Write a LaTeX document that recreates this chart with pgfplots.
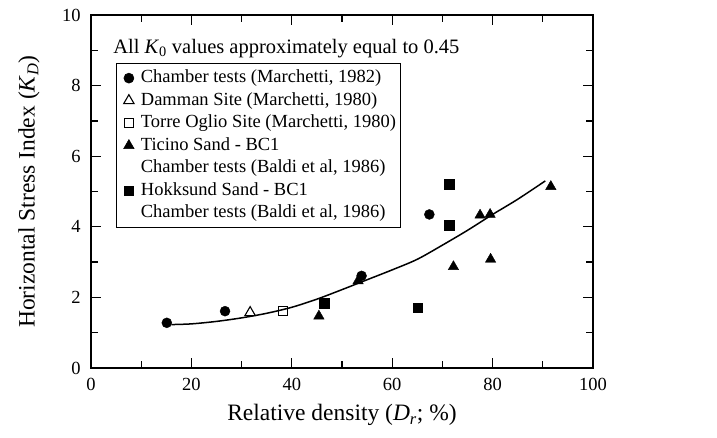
\documentclass[border=0pt]{standalone}
\usepackage{pgfplots}
\pgfplotsset{compat=1.18}
\usepackage{fontspec}
\setmainfont{Liberation Serif}
\begin{document}
\fontsize{18.5bp}{22bp}\selectfont
\begin{tikzpicture}
\path[use as bounding box] (-91bp,-70bp) rectangle (626bp,368bp);
\begin{axis}[
  at={(0,0)}, anchor=south west,
  scale only axis, width=502bp, height=353bp,
  xmin=0, xmax=100, ymin=0, ymax=10,
  xtick={0,20,...,100}, ytick={0,2,...,10},
  minor x tick num=1, minor y tick num=1,
  xtick align=inside, ytick align=inside,
  xtick pos=both, ytick pos=both,
  major tick length=10bp, minor tick length=7bp,
  axis line style={line width=1.8bp},
  every tick/.append style={line width=1.3bp, black},
  /pgf/number format/assume math mode=true,
  xticklabel style={yshift=-4bp},
  yticklabel style={xshift=-4bp},
  xlabel={Relative density (\textit{D}\textsubscript{\textit{r}}; \%)},
  ylabel={Horizontal Stress Index (\textit{K}\textsubscript{\textit{D}})},
  xlabel style={font=\fontsize{23.5bp}{28bp}\selectfont, yshift=-1bp},
  ylabel style={font=\fontsize{23.5bp}{28bp}\selectfont, yshift=10bp},
  legend style={at={(axis cs:4.9,8.63)}, anchor=north west,
    draw=black, line width=0.6bp, row sep=3.5bp,
    inner xsep=3bp, inner ysep=5bp,
    nodes={inner sep=1bp, text height=13bp, text depth=4bp},
    font=\fontsize{18.5bp}{22bp}\selectfont},
  legend cell align=left,
  legend image code/.code={\path[draw=none, fill=none] (0bp,0bp) -- (21bp,0bp); \draw[only marks] plot coordinates {(10bp,0bp)};},
]
\addplot[black, line width=1.5bp, smooth, forget plot] coordinates {
(16,1.23) (20,1.25) (25,1.32) (30,1.42) (35,1.55) (40,1.72) (45,1.95) (50,2.22) (55,2.50) (60,2.78) (65,3.08) (70,3.48) (75,3.90) (80,4.35) (85,4.78) (90.5,5.3)};
\addplot[only marks, mark=*, mark size=5bp, black] coordinates {
(15.1,1.28) (26.7,1.61) (53.9,2.61) (67.4,4.35)};
\addlegendentry{Chamber tests (Marchetti, 1982)}
\addplot[only marks, mark=triangle, mark size=6bp, black, mark options={fill=white, line width=1.1bp}] coordinates {
(31.7,1.57)};
\addlegendentry{Damman Site (Marchetti, 1980)}
\addplot[only marks, mark=square, mark size=4.5bp, black, mark options={fill=white, line width=1.1bp}] coordinates {
(38.2,1.62)};
\addlegendentry{Torre Oglio Site (Marchetti, 1980)}
\addplot[only marks, mark=triangle*, mark size=6bp, black] coordinates {
(45.4,1.47) (53.2,2.47) (72.2,2.87) (77.5,4.33) (79.5,4.35) (79.6,3.08) (91.6,5.14)};
\addlegendentry{Ticino Sand - BC1}
\addlegendimage{empty legend}
\addlegendentry{Chamber tests (Baldi et al, 1986)}
\addplot[only marks, mark=square*, mark size=4.8bp, black] coordinates {
(46.4,1.83) (65.1,1.71) (71.3,4.05) (71.3,5.21)};
\addlegendentry{Hokksund Sand - BC1}
\addlegendimage{empty legend}
\addlegendentry{Chamber tests (Baldi et al, 1986)}
\node[anchor=west, inner sep=0pt, font=\fontsize{20.5bp}{24bp}\selectfont] at (axis cs:4.4,9.05) {All \textit{K}\textsubscript{0} values approximately equal to 0.45};
\end{axis}
\end{tikzpicture}
\end{document}
